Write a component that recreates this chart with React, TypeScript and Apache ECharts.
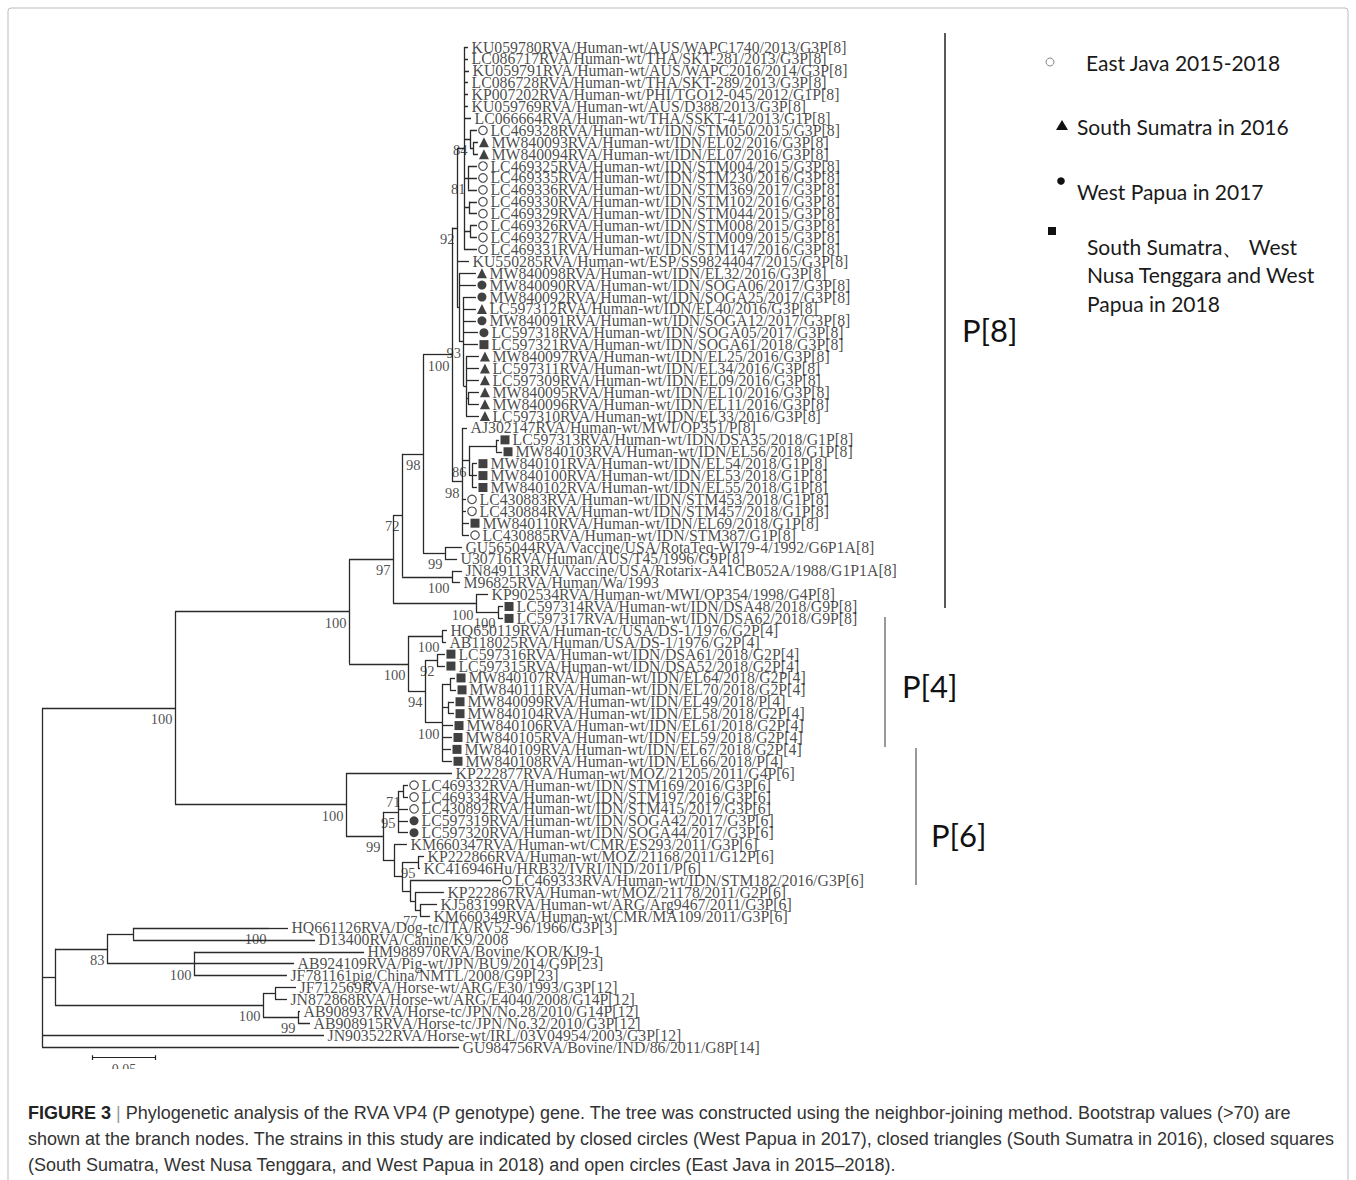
import React, { useEffect, useRef } from "react";
import * as echarts from "echarts";

// ---------------- DATA ----------------
const leafLabels: string[] = [
  "KU059780RVA/Human-wt/AUS/WAPC1740/2013/G3P[8]",
  "LC086717RVA/Human-wt/THA/SKT-281/2013/G3P[8]",
  "KU059791RVA/Human-wt/AUS/WAPC2016/2014/G3P[8]",
  "LC086728RVA/Human-wt/THA/SKT-289/2013/G3P[8]",
  "KP007202RVA/Human-wt/PHI/TGO12-045/2012/G1P[8]",
  "KU059769RVA/Human-wt/AUS/D388/2013/G3P[8]",
  "LC066664RVA/Human-wt/THA/SSKT-41/2013/G1P[8]",
  "LC469328RVA/Human-wt/IDN/STM050/2015/G3P[8]",
  "MW840093RVA/Human-wt/IDN/EL02/2016/G3P[8]",
  "MW840094RVA/Human-wt/IDN/EL07/2016/G3P[8]",
  "LC469325RVA/Human-wt/IDN/STM004/2015/G3P[8]",
  "LC469335RVA/Human-wt/IDN/STM230/2016/G3P[8]",
  "LC469336RVA/Human-wt/IDN/STM369/2017/G3P[8]",
  "LC469330RVA/Human-wt/IDN/STM102/2016/G3P[8]",
  "LC469329RVA/Human-wt/IDN/STM044/2015/G3P[8]",
  "LC469326RVA/Human-wt/IDN/STM008/2015/G3P[8]",
  "LC469327RVA/Human-wt/IDN/STM009/2015/G3P[8]",
  "LC469331RVA/Human-wt/IDN/STM147/2016/G3P[8]",
  "KU550285RVA/Human-wt/ESP/SS98244047/2015/G3P[8]",
  "MW840098RVA/Human-wt/IDN/EL32/2016/G3P[8]",
  "MW840090RVA/Human-wt/IDN/SOGA06/2017/G3P[8]",
  "MW840092RVA/Human-wt/IDN/SOGA25/2017/G3P[8]",
  "LC597312RVA/Human-wt/IDN/EL40/2016/G3P[8]",
  "MW840091RVA/Human-wt/IDN/SOGA12/2017/G3P[8]",
  "LC597318RVA/Human-wt/IDN/SOGA05/2017/G3P[8]",
  "LC597321RVA/Human-wt/IDN/SOGA61/2018/G3P[8]",
  "MW840097RVA/Human-wt/IDN/EL25/2016/G3P[8]",
  "LC597311RVA/Human-wt/IDN/EL34/2016/G3P[8]",
  "LC597309RVA/Human-wt/IDN/EL09/2016/G3P[8]",
  "MW840095RVA/Human-wt/IDN/EL10/2016/G3P[8]",
  "MW840096RVA/Human-wt/IDN/EL11/2016/G3P[8]",
  "LC597310RVA/Human-wt/IDN/EL33/2016/G3P[8]",
  "AJ302147RVA/Human-wt/MWI/OP351/P[8]",
  "LC597313RVA/Human-wt/IDN/DSA35/2018/G1P[8]",
  "MW840103RVA/Human-wt/IDN/EL56/2018/G1P[8]",
  "MW840101RVA/Human-wt/IDN/EL54/2018/G1P[8]",
  "MW840100RVA/Human-wt/IDN/EL53/2018/G1P[8]",
  "MW840102RVA/Human-wt/IDN/EL55/2018/G1P[8]",
  "LC430883RVA/Human-wt/IDN/STM453/2018/G1P[8]",
  "LC430884RVA/Human-wt/IDN/STM457/2018/G1P[8]",
  "MW840110RVA/Human-wt/IDN/EL69/2018/G1P[8]",
  "LC430885RVA/Human-wt/IDN/STM387/G1P[8]",
  "GU565044RVA/Vaccine/USA/RotaTeq-WI79-4/1992/G6P1A[8]",
  "U30716RVA/Human/AUS/T45/1996/G9P[8]",
  "JN849113RVA/Vaccine/USA/Rotarix-A41CB052A/1988/G1P1A[8]",
  "M96825RVA/Human/Wa/1993",
  "KP902534RVA/Human-wt/MWI/OP354/1998/G4P[8]",
  "LC597314RVA/Human-wt/IDN/DSA48/2018/G9P[8]",
  "LC597317RVA/Human-wt/IDN/DSA62/2018/G9P[8]",
  "HQ650119RVA/Human-tc/USA/DS-1/1976/G2P[4]",
  "AB118025RVA/Human/USA/DS-1/1976/G2P[4]",
  "LC597316RVA/Human-wt/IDN/DSA61/2018/G2P[4]",
  "LC597315RVA/Human-wt/IDN/DSA52/2018/G2P[4]",
  "MW840107RVA/Human-wt/IDN/EL64/2018/G2P[4]",
  "MW840111RVA/Human-wt/IDN/EL70/2018/G2P[4]",
  "MW840099RVA/Human-wt/IDN/EL49/2018/P[4]",
  "MW840104RVA/Human-wt/IDN/EL58/2018/G2P[4]",
  "MW840106RVA/Human-wt/IDN/EL61/2018/G2P[4]",
  "MW840105RVA/Human-wt/IDN/EL59/2018/G2P[4]",
  "MW840109RVA/Human-wt/IDN/EL67/2018/G2P[4]",
  "MW840108RVA/Human-wt/IDN/EL66/2018/P[4]",
  "KP222877RVA/Human-wt/MOZ/21205/2011/G4P[6]",
  "LC469332RVA/Human-wt/IDN/STM169/2016/G3P[6]",
  "LC469334RVA/Human-wt/IDN/STM197/2016/G3P[6]",
  "LC430892RVA/Human-wt/IDN/STM415/2017/G3P[6]",
  "LC597319RVA/Human-wt/IDN/SOGA42/2017/G3P[6]",
  "LC597320RVA/Human-wt/IDN/SOGA44/2017/G3P[6]",
  "KM660347RVA/Human-wt/CMR/ES293/2011/G3P[6]",
  "KP222866RVA/Human-wt/MOZ/21168/2011/G12P[6]",
  "KC416946Hu/HRB32/IVRI/IND/2011/P[6]",
  "LC469333RVA/Human-wt/IDN/STM182/2016/G3P[6]",
  "KP222867RVA/Human-wt/MOZ/21178/2011/G2P[6]",
  "KJ583199RVA/Human-wt/ARG/Arg9467/2011/G3P[6]",
  "KM660349RVA/Human-wt/CMR/MA109/2011/G3P[6]",
  "HQ661126RVA/Dog-tc/ITA/RV52-96/1966/G3P[3]",
  "D13400RVA/Canine/K9/2008",
  "HM988970RVA/Bovine/KOR/KJ9-1",
  "AB924109RVA/Pig-wt/JPN/BU9/2014/G9P[23]",
  "JF781161pig/China/NMTL/2008/G9P[23]",
  "JF712569RVA/Horse-wt/ARG/E30/1993/G3P[12]",
  "JN872868RVA/Horse-wt/ARG/E4040/2008/G14P[12]",
  "AB908937RVA/Horse-tc/JPN/No.28/2010/G14P[12]",
  "AB908915RVA/Horse-tc/JPN/No.32/2010/G3P[12]",
  "JN903522RVA/Horse-wt/IRL/03V04954/2003/G3P[12]",
  "GU984756RVA/Bovine/IND/86/2011/G8P[14]",
];

// o = open circle (East Java), t = triangle (South Sumatra 2016),
// c = closed circle (West Papua 2017), s = square (2018)
const leafMarkers: string[] = [
  "", "", "", "", "", "", "", "o", "t", "t",
  "o", "o", "o", "o", "o", "o", "o", "o", "", "t",
  "c", "c", "t", "c", "c", "s", "t", "t", "t", "t",
  "t", "t", "", "s", "s", "s", "s", "s", "o", "o",
  "s", "o", "", "", "", "", "", "s", "s", "",
  "", "s", "s", "s", "s", "s", "s", "s", "s", "s",
  "s", "", "o", "o", "o", "c", "c", "", "", "",
  "o", "", "", "", "", "", "", "", "", "",
  "", "", "", "", "",
];

// distance from the root to each tip
const tipDepths: number[] = [
  0.3381, 0.3381, 0.3389, 0.3381, 0.3381, 0.3381, 0.3405, 0.3452, 0.346, 0.346,
  0.3452, 0.3452, 0.3452, 0.3452, 0.3452, 0.3452, 0.3452, 0.3452, 0.3389, 0.3444,
  0.3444, 0.3444, 0.3444, 0.3444, 0.346, 0.346, 0.3468, 0.3468, 0.3468, 0.3468,
  0.3468, 0.3468, 0.3373, 0.3627, 0.3651, 0.3452, 0.3452, 0.3452, 0.3365, 0.3365,
  0.3389, 0.3389, 0.3333, 0.3294, 0.3333, 0.3317, 0.354, 0.3659, 0.3659, 0.3214,
  0.3206, 0.3198, 0.3198, 0.3278, 0.3286, 0.327, 0.327, 0.3262, 0.3254, 0.3246,
  0.3254, 0.3254, 0.2905, 0.2905, 0.2905, 0.2905, 0.2905, 0.2897, 0.3032, 0.3,
  0.3643, 0.319, 0.3135, 0.3079, 0.1952, 0.2167, 0.2556, 0.2, 0.1944, 0.2016,
  0.1944, 0.2048, 0.2127, 0.2238, 0.331,
];

// internal nodes: id, depth from root, bootstrap ("" = not shown), children
const nodeIds: string[] = [
  "NA", "N84", "N84b", "N81", "N14", "N16", "N92", "N93", "N27", "N30",
  "NB", "N34", "N36", "N86", "E", "C", "NGU", "N98o", "NJN",
  "N72", "NDSA", "NKP", "N97", "NDS1", "N92b", "N107", "N099", "N100b", "N94",
  "NP4", "N349", "N71", "N95a", "N95b", "N77", "Nx", "Ny", "Nrest", "Nlower",
  "N99", "NP6", "ING", "NHQ", "Ndog", "Npig", "N83", "NJF", "NAB", "Nhorse",
  "Nanim", "ROOT",
];
const nodeDepths: number[] = [
  0.3349, 0.3397, 0.3421, 0.3381, 0.3389, 0.3397, 0.3294, 0.3345, 0.3365, 0.3381,
  0.331, 0.3603, 0.3413, 0.3389, 0.3333, 0.3254, 0.3198, 0.3024, 0.3254,
  0.2857, 0.3619, 0.3444, 0.2786, 0.3175, 0.3135, 0.3238, 0.3222, 0.3175, 0.304,
  0.2905, 0.2437, 0.2865, 0.2825, 0.2984, 0.3, 0.296, 0.2921, 0.2857, 0.2794,
  0.2706, 0.2413, 0.1056, 0.1802, 0.0722, 0.1206, 0.0516, 0.1849, 0.2032, 0.1754,
  0.0103, 0,
];
const nodeBootstraps: string[] = [
  "", "84", "", "81", "", "", "92", "93", "", "",
  "", "", "", "86", "98", "100", "99", "98", "100",
  "72", "100", "100", "97", "100", "92", "", "", "100", "94",
  "100", "100", "71", "95", "95", "77", "", "", "", "",
  "99", "100", "100", "100", "", "100", "83", "", "99", "100",
  "", "",
];
const nodeChildren: (number | string)[][] = [
  [0, 1, 2, 3, 4, 5, 6, "N84", "N81", "N14", "N16", 17],
  [7, "N84b"],
  [8, 9],
  [10, 11, 12],
  [13, 14],
  [15, 16],
  ["NA", 18, "NB"],
  [21, 22, 23, 24, 25, "N27"],
  [26, 27, 28, "N30", 31],
  [29, 30],
  [19, 20, "N93"],
  [33, 34],
  [35, 36, 37],
  ["N34", "N36"],
  [32, "N86", 38, 39, 40, 41],
  ["N92", "E"],
  [42, 43],
  ["C", "NGU"],
  [44, 45],
  ["N98o", "NJN"],
  [47, 48],
  [46, "NDSA"],
  ["N72", "NKP"],
  [49, 50],
  [51, 52],
  [53, 54],
  [55, 56],
  ["N107", "N099", 57, 58, 59, 60],
  ["N92b", "N100b"],
  ["NDS1", "N94"],
  ["N97", "NP4"],
  [62, 63],
  ["N71", 64, 65, 66],
  [68, 69],
  [72, 73],
  [71, "N77"],
  [70, "Nx"],
  ["N95b", "Ny"],
  [67, "Nrest"],
  ["N95a", "Nlower"],
  [61, "N99"],
  ["N349", "NP6"],
  [74],
  ["NHQ", 75],
  [76, 77, 78],
  ["Ndog", "Npig"],
  [79, 80],
  [81, 82],
  ["NJF", "NAB"],
  ["N83", "Nhorse"],
  ["ING", "Nanim", 83, 84],
];

const scaleBarLength = 0.05;
const scaleBarLabel = "0.05";

const legendItems: { marker: string; lines: string[] }[] = [
  { marker: "o", lines: ["East Java 2015-2018"] },
  { marker: "t", lines: ["South Sumatra in 2016"] },
  { marker: "c", lines: ["West Papua in 2017"] },
  { marker: "s", lines: ["South Sumatra、 West", "Nusa Tenggara and West", "Papua in 2018"] },
];

const genotypeLabels = ["P[8]", "P[4]", "P[6]"];

const captionLines = [
  "Phylogenetic analysis of the RVA VP4 (P genotype) gene. The tree was constructed using the neighbor-joining method. Bootstrap values (>70) are",
  "shown at the branch nodes. The strains in this study are indicated by closed circles (West Papua in 2017), closed triangles (South Sumatra in 2016), closed squares",
  "(South Sumatra, West Nusa Tenggara, and West Papua in 2018) and open circles (East Java in 2015–2018).",
];

// ---------------- LAYOUT HELPERS ----------------
const nodeIndex = new Map<string, number>(nodeIds.map((id, i) => [id, i]));
const yCache = new Map<string, number>();
function yOf(c: number | string): number {
  if (typeof c === "number") return c;
  if (yCache.has(c)) return yCache.get(c)!;
  const ch = nodeChildren[nodeIndex.get(c)!];
  const y = (yOf(ch[0]) + yOf(ch[ch.length - 1])) / 2;
  yCache.set(c, y);
  return y;
}
function depthOf(c: number | string): number {
  return typeof c === "number" ? tipDepths[c] : nodeDepths[nodeIndex.get(c)!];
}

const LINE = "#2a2a2a";
const SERIF = "'Liberation Serif', 'Times New Roman', serif";
const SANS = "Lato, 'Open Sans', sans-serif";
const CAP = "18px 'Liberation Sans Narrow', 'Arial Narrow', 'Liberation Sans', sans-serif";

export default function App() {
  const ref = useRef<HTMLDivElement>(null);
  useEffect(() => {
    const chart = echarts.init(ref.current!, null, { renderer: "svg" });

    const segments: any[] = [];
    nodeIds.forEach((id, i) => {
      const ch = nodeChildren[i];
      const d = nodeDepths[i];
      const y1 = yOf(ch[0]);
      const y2 = yOf(ch[ch.length - 1]);
      if (y2 > y1) segments.push({ coords: [[d, y1], [d, y2]] });
      ch.forEach((c) => {
        segments.push({ coords: [[d, yOf(c)], [depthOf(c), yOf(c)]] });
      });
    });

    const labelData = leafLabels.map((name, i) => ({
      name,
      value: [tipDepths[i], i],
      label: { distance: leafMarkers[i] ? 13 : 3 },
    }));

    const markerSeries = (code: string, symbol: string, size: number, open: boolean) => ({
      type: "scatter",
      name: code,
      symbol,
      symbolSize: size,
      symbolOffset: [6, 0],
      clip: false,
      silent: true,
      itemStyle: open
        ? { color: "#fff", borderColor: "#222", borderWidth: 1.2 }
        : { color: "#111" },
      data: leafMarkers
        .map((m, i) => (m === code ? [tipDepths[i], i] : null))
        .filter((v) => v !== null),
    });

    const bootData = nodeIds
      .map((id, i) => (nodeBootstraps[i] ? { name: nodeBootstraps[i], value: [nodeDepths[i], yOf(id)] } : null))
      .filter((v) => v !== null);

    const barY = leafLabels.length - 0.1;

    // legend graphics
    const legendGraphics: any[] = [];
    const legendRows = [62, 126, 188, 231];
    legendItems.forEach((it, k) => {
      const cy = legendRows[k];
      if (it.marker === "o")
        legendGraphics.push({ type: "circle", shape: { cx: 1050, cy, r: 4 }, style: { fill: "#fff", stroke: "#888", lineWidth: 1 } });
      if (it.marker === "t")
        legendGraphics.push({ type: "polygon", shape: { points: [[1062, cy - 6], [1056, cy + 4], [1068, cy + 4]] }, style: { fill: "#111" } });
      if (it.marker === "c")
        legendGraphics.push({ type: "circle", shape: { cx: 1061, cy: cy - 7, r: 3.8 }, style: { fill: "#111" } });
      if (it.marker === "s")
        legendGraphics.push({ type: "rect", shape: { x: 1048, y: cy - 4, width: 8, height: 8 }, style: { fill: "#111" } });
      const tx = it.marker === "o" ? 1086 : it.marker === "s" ? 1087 : 1077;
      const ty = it.marker === "s" ? 246 : it.marker === "c" ? 191 : cy;
      it.lines.forEach((ln, j) => {
        legendGraphics.push({
          type: "text",
          style: { text: ln, x: tx, y: ty + j * 28.5, font: `21px ${SANS}`, fill: "#1a1a1a", verticalAlign: "middle" },
        });
      });
    });

    const option: any = {
      animation: false,
      backgroundColor: "#fff",
      grid: { left: 42, top: 47, width: 504, height: 1000 * 86 / 84, containLabel: false },
      xAxis: { type: "value", min: 0, max: 0.4, show: false },
      yAxis: { type: "value", min: 0, max: 86, inverse: true, show: false },
      series: [
        {
          type: "lines",
          coordinateSystem: "cartesian2d",
          polyline: false,
          silent: true,
          lineStyle: { color: LINE, width: 1.3, opacity: 1 },
          data: segments,
        },
        {
          type: "scatter",
          symbol: "circle",
          symbolSize: 1,
          clip: false,
          silent: true,
          itemStyle: { color: "rgba(0,0,0,0)" },
          label: {
            show: true,
            position: "right",
            formatter: "{b}",
            fontFamily: SERIF,
            fontSize: 15.8,
            lineHeight: 12,
            color: "#1a1a1a",
          },
          data: labelData,
        },
        markerSeries("o", "circle", 8.5, true),
        markerSeries("t", "triangle", 10, false),
        markerSeries("c", "circle", 9, false),
        markerSeries("s", "rect", 9, false),
        {
          type: "scatter",
          symbol: "circle",
          symbolSize: 1,
          clip: false,
          silent: true,
          itemStyle: { color: "rgba(0,0,0,0)" },
          label: {
            show: true,
            position: "left",
            distance: 2,
            offset: [0, 11],
            formatter: "{b}",
            fontFamily: SERIF,
            fontSize: 14.5,
            lineHeight: 12,
            color: "#222",
          },
          data: bootData,
        },
        {
          type: "lines",
          coordinateSystem: "cartesian2d",
          silent: true,
          lineStyle: { color: "#222", width: 1.2, opacity: 1 },
          data: [
            { coords: [[0.04, barY], [0.04 + scaleBarLength, barY]] },
            { coords: [[0.04, barY - 0.2], [0.04, barY + 0.2]] },
            { coords: [[0.04 + scaleBarLength, barY - 0.2], [0.04 + scaleBarLength, barY + 0.2]] },
          ],
        },
        {
          type: "scatter",
          symbolSize: 1,
          clip: false,
          silent: true,
          itemStyle: { color: "rgba(0,0,0,0)" },
          label: { show: true, position: "bottom", distance: 4, formatter: "{b}", fontFamily: SERIF, fontSize: 14, color: "#222" },
          data: [{ name: scaleBarLabel, value: [0.04 + scaleBarLength / 2, barY] }],
        },
      ],
      graphic: [
        { type: "rect", z: 0, shape: { x: 8, y: 8, width: 1340, height: 1220, r: 3 }, style: { fill: "none", stroke: "#bbb", lineWidth: 1 } },
        { type: "rect", z: 100, shape: { x: 60, y: 1069, width: 200, height: 20 }, style: { fill: "#fff" } },
        { type: "line", shape: { x1: 945, y1: 33, x2: 945, y2: 608 }, style: { stroke: "#222", lineWidth: 1.5 } },
        { type: "line", shape: { x1: 885, y1: 617, x2: 885, y2: 747 }, style: { stroke: "#555", lineWidth: 1.2 } },
        { type: "line", shape: { x1: 916, y1: 748, x2: 916, y2: 885 }, style: { stroke: "#555", lineWidth: 1.2 } },
        { type: "text", style: { text: genotypeLabels[0], x: 962, y: 330, font: `31px ${SANS}`, fill: "#111", verticalAlign: "middle" } },
        { type: "text", style: { text: genotypeLabels[1], x: 902, y: 686, font: `31px ${SANS}`, fill: "#111", verticalAlign: "middle" } },
        { type: "text", style: { text: genotypeLabels[2], x: 931, y: 835, font: `31px ${SANS}`, fill: "#111", verticalAlign: "middle" } },
        ...legendGraphics,
        {
          type: "text",
          style: {
            text: `{b|FIGURE 3}{bar| | }${captionLines[0]}`,
            x: 28,
            y: 1113,
            font: CAP,
            fill: "#333",
            verticalAlign: "middle",
            rich: {
              b: { fontWeight: "bold", fontFamily: "'Liberation Sans Narrow', 'Liberation Sans', sans-serif", fontSize: 18, fill: "#222" },
              bar: { fontFamily: "'Liberation Sans Narrow', 'Liberation Sans', sans-serif", fontSize: 18, fill: "#999" },
            },
          },
        },
        { type: "text", style: { text: captionLines[1], x: 28, y: 1139, font: CAP, fill: "#333", verticalAlign: "middle" } },
        { type: "text", style: { text: captionLines[2], x: 28, y: 1165, font: CAP, fill: "#333", verticalAlign: "middle" } },
      ],
    };
    chart.setOption(option);
    return () => chart.dispose();
  }, []);
  return <div ref={ref} style={{ position: "absolute", left: 0, top: 0, width: 1356, height: 1180, background: "#fff" }} />;
}
